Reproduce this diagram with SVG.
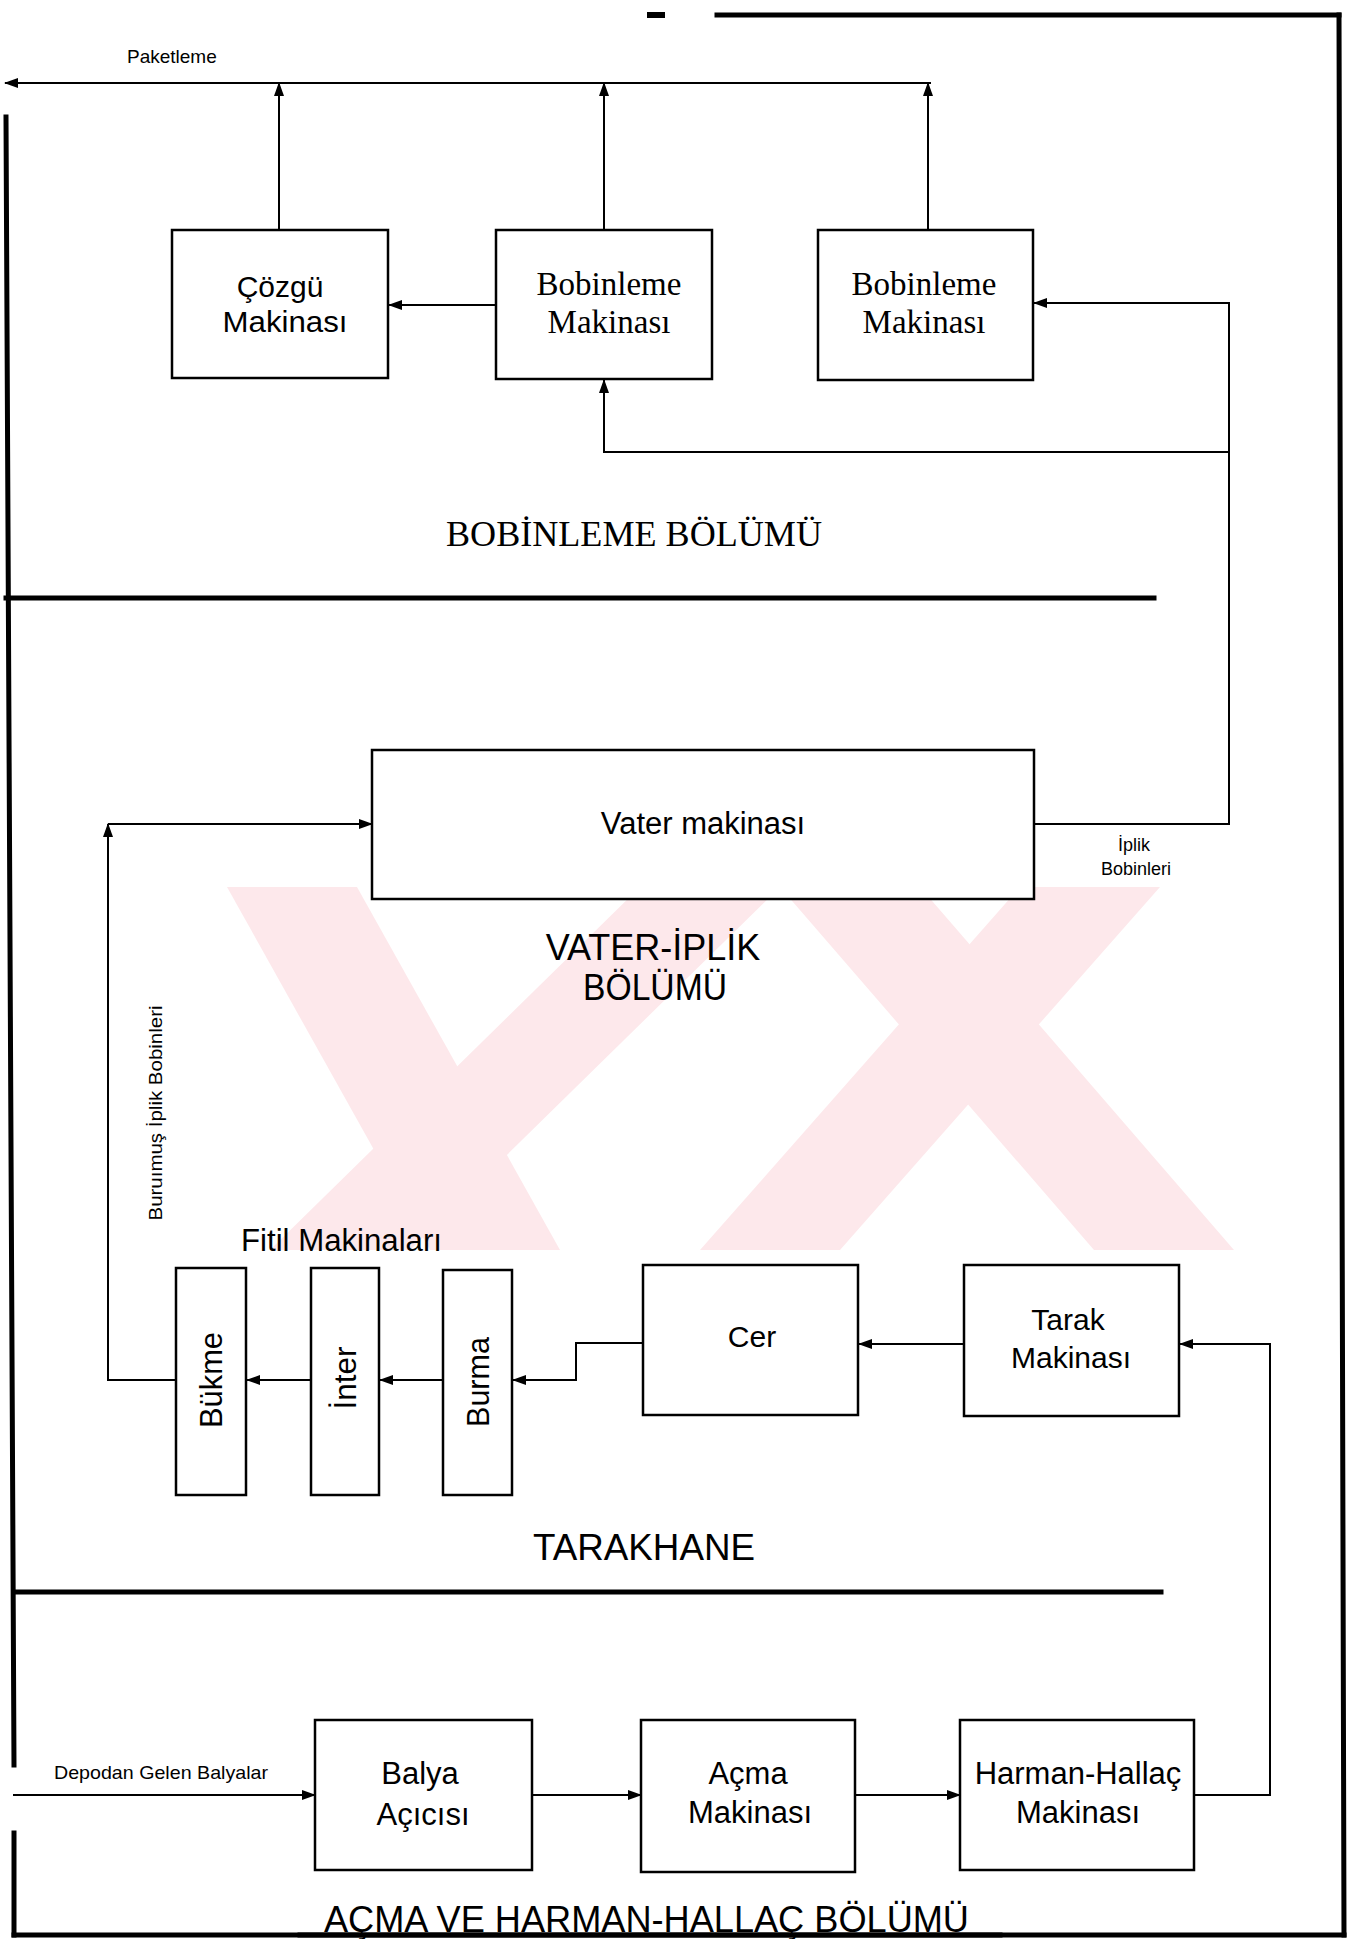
<svg xmlns="http://www.w3.org/2000/svg" width="1351" height="1939" viewBox="0 0 1351 1939">
<defs>
<marker id="ah" markerUnits="userSpaceOnUse" markerWidth="14" markerHeight="10" refX="13" refY="5" orient="auto">
<path d="M0,0 L14,5 L0,10 z" fill="#000"/>
</marker>
<style>
.box{fill:#fff;stroke:#000;stroke-width:2.5}
.ln{fill:none;stroke:#000;stroke-width:2}
.bd{fill:none;stroke:#000;stroke-width:5;stroke-linecap:square}
.a{font-family:"Liberation Sans",Arial,sans-serif;fill:#000}
.t{font-family:"Liberation Serif","Times New Roman",serif;fill:#000}
.c{text-anchor:middle}
.wm{fill:#fde8eb}
</style>
</defs>
<rect width="1351" height="1939" fill="#fff"/>
<g id="watermark">
<polygon class="wm" points="227,887 357,887 560,1250 430,1250"/>
<polygon class="wm" points="640,887 780,887 410,1250 270,1250"/>
<polygon class="wm" points="1020,887 1160,887 840,1250 700,1250"/>
<polygon class="wm" points="780,887 920,887 1234,1250 1094,1250"/>
</g>
<g id="frame">
<line class="bd" x1="717" y1="15" x2="1339" y2="15"/>
<rect x="647" y="12" width="18" height="6" fill="#000"/>
<line class="bd" x1="1339" y1="15" x2="1344" y2="1935"/>
<line class="bd" x1="14" y1="1935" x2="1344" y2="1935"/>
<line class="bd" x1="6" y1="117" x2="14" y2="1765"/>
<line class="bd" x1="14" y1="1833" x2="14" y2="1935"/>
<line class="bd" x1="6" y1="598" x2="1154" y2="598"/>
<line class="bd" x1="14" y1="1592" x2="1161" y2="1592"/>
</g>
<g id="connectors">
<line class="ln" x1="931" y1="83" x2="5" y2="83" marker-end="url(#ah)"/>
<line class="ln" x1="279" y1="230" x2="279" y2="83" marker-end="url(#ah)"/>
<line class="ln" x1="604" y1="230" x2="604" y2="83" marker-end="url(#ah)"/>
<line class="ln" x1="928" y1="230" x2="928" y2="83" marker-end="url(#ah)"/>
<line class="ln" x1="496" y1="305" x2="389" y2="305" marker-end="url(#ah)"/>
<polyline class="ln" points="1034,824 1229,824 1229,303 1034,303" marker-end="url(#ah)"/>
<polyline class="ln" points="1229,452 604,452 604,380" marker-end="url(#ah)"/>
<polyline class="ln" points="176,1380 108,1380 108,824" marker-end="url(#ah)"/>
<line class="ln" x1="108" y1="824" x2="372" y2="824" marker-end="url(#ah)"/>
<line class="ln" x1="311" y1="1380" x2="247" y2="1380" marker-end="url(#ah)"/>
<line class="ln" x1="443" y1="1380" x2="380" y2="1380" marker-end="url(#ah)"/>
<polyline class="ln" points="643,1343 576,1343 576,1380 513,1380" marker-end="url(#ah)"/>
<line class="ln" x1="964" y1="1344" x2="859" y2="1344" marker-end="url(#ah)"/>
<polyline class="ln" points="1194,1795 1270,1795 1270,1344 1180,1344" marker-end="url(#ah)"/>
<line class="ln" x1="13" y1="1795" x2="315" y2="1795" marker-end="url(#ah)"/>
<line class="ln" x1="532" y1="1795" x2="641" y2="1795" marker-end="url(#ah)"/>
<line class="ln" x1="855" y1="1795" x2="960" y2="1795" marker-end="url(#ah)"/>
</g>
<g id="labels">
<text class="a" x="127" y="63" font-size="19">Paketleme</text>
<text class="a c" x="1134" y="851" font-size="18">İplik</text>
<text class="a c" x="1136" y="875" font-size="18">Bobinleri</text>
<text class="a c" x="162" y="1113" font-size="19" textLength="215" lengthAdjust="spacingAndGlyphs" transform="rotate(-90 162 1113)">Buruımuş İplik Bobinleri</text>
<text class="a" x="54" y="1779" font-size="19" textLength="214" lengthAdjust="spacingAndGlyphs">Depodan Gelen Balyalar</text>
<text class="a" x="241" y="1251" font-size="31" textLength="201" lengthAdjust="spacingAndGlyphs">Fitil Makinaları</text>
</g>
<g id="sections">
<text class="t" x="446" y="546" font-size="36" textLength="376" lengthAdjust="spacingAndGlyphs">BOBİNLEME BÖLÜMÜ</text>
<text class="a c" x="653" y="960" font-size="36">VATER-İPLİK</text>
<text class="a c" x="655" y="1000" font-size="36" textLength="144" lengthAdjust="spacingAndGlyphs">BÖLÜMÜ</text>
<text class="a" x="533" y="1560" font-size="36" textLength="222" lengthAdjust="spacingAndGlyphs">TARAKHANE</text>
<text class="a" x="324" y="1932" font-size="36" textLength="645" lengthAdjust="spacingAndGlyphs">AÇMA VE HARMAN-HALLAÇ BÖLÜMÜ</text>
<line class="bd" x1="300" y1="1935" x2="1000" y2="1935"/>
</g>
<g id="cozgu">
<rect class="box" x="172" y="230" width="216" height="148"/>
<text class="a c" x="280" y="297" font-size="30">Çözgü</text>
<text class="a c" x="285" y="332" font-size="30" textLength="125" lengthAdjust="spacingAndGlyphs">Makinası</text>
</g>
<g id="bobinleme1">
<rect class="box" x="496" y="230" width="216" height="149"/>
<text class="t c" x="609" y="295" font-size="33">Bobinleme</text>
<text class="t c" x="609" y="333" font-size="33">Makinası</text>
</g>
<g id="bobinleme2">
<rect class="box" x="818" y="230" width="215" height="150"/>
<text class="t c" x="924" y="295" font-size="33">Bobinleme</text>
<text class="t c" x="924" y="333" font-size="33">Makinası</text>
</g>
<g id="vater">
<rect class="box" x="372" y="750" width="662" height="149"/>
<text class="a c" x="703" y="834" font-size="31">Vater makinası</text>
</g>
<g id="bukme">
<rect class="box" x="176" y="1268" width="70" height="227"/>
<text class="a c" x="222" y="1380" font-size="31" textLength="96" lengthAdjust="spacingAndGlyphs" transform="rotate(-90 222 1380)">Bükme</text>
</g>
<g id="inter">
<rect class="box" x="311" y="1268" width="68" height="227"/>
<text class="a c" x="356" y="1378" font-size="31" textLength="63" lengthAdjust="spacingAndGlyphs" transform="rotate(-90 356 1378)">İnter</text>
</g>
<g id="burma">
<rect class="box" x="443" y="1270" width="69" height="225"/>
<text class="a c" x="489" y="1382" font-size="31" textLength="90" lengthAdjust="spacingAndGlyphs" transform="rotate(-90 489 1382)">Burma</text>
</g>
<g id="cer">
<rect class="box" x="643" y="1265" width="215" height="150"/>
<text class="a c" x="752" y="1347" font-size="30">Cer</text>
</g>
<g id="tarak">
<rect class="box" x="964" y="1265" width="215" height="151"/>
<text class="a c" x="1068" y="1330" font-size="30">Tarak</text>
<text class="a c" x="1071" y="1368" font-size="30">Makinası</text>
</g>
<g id="balya">
<rect class="box" x="315" y="1720" width="217" height="150"/>
<text class="a c" x="420" y="1784" font-size="31">Balya</text>
<text class="a c" x="423" y="1825" font-size="31">Açıcısı</text>
</g>
<g id="acma">
<rect class="box" x="641" y="1720" width="214" height="152"/>
<text class="a c" x="748" y="1784" font-size="31">Açma</text>
<text class="a c" x="750" y="1823" font-size="31">Makinası</text>
</g>
<g id="harman">
<rect class="box" x="960" y="1720" width="234" height="150"/>
<text class="a c" x="1078" y="1784" font-size="31">Harman-Hallaç</text>
<text class="a c" x="1078" y="1823" font-size="31">Makinası</text>
</g>
</svg>
